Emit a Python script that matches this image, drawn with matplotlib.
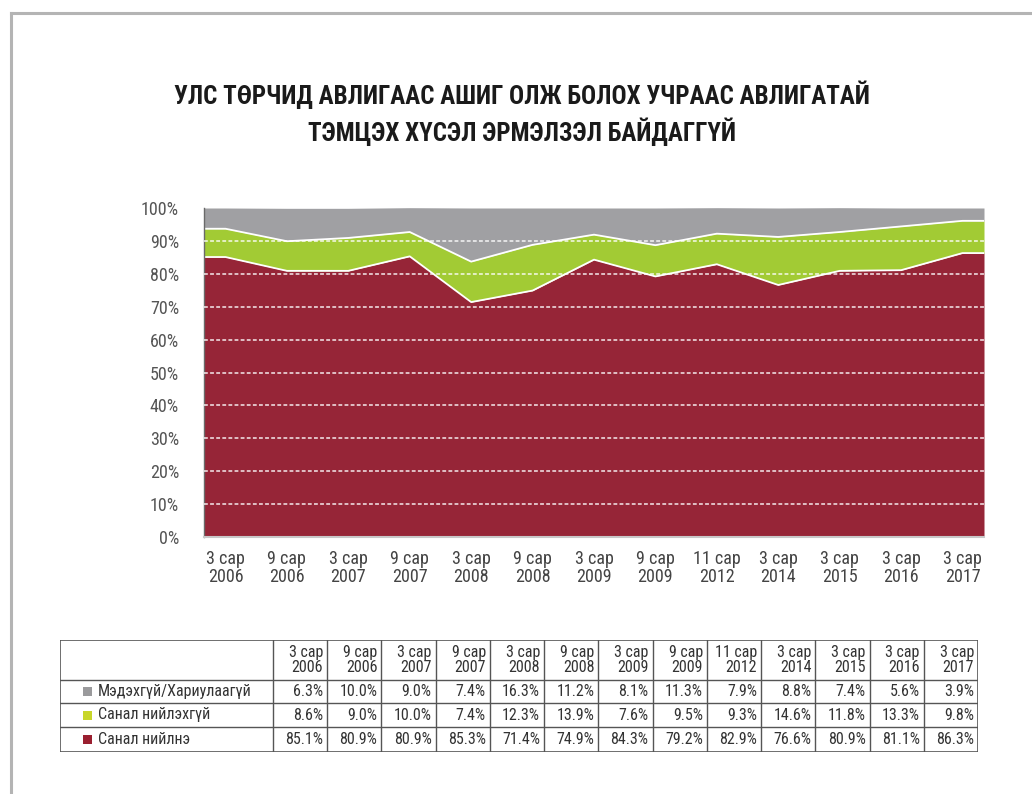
import matplotlib
matplotlib.use("Agg")
import matplotlib.pyplot as plt
import numpy as np
from matplotlib.lines import Line2D
from matplotlib.patches import Rectangle

plt.rcParams['font.family'] = ['Roboto Condensed', 'DejaVu Sans']

# data
periods = ["3 сар\n2006", "9 сар\n2006", "3 сар\n2007", "9 сар\n2007", "3 сар\n2008",
           "9 сар\n2008", "3 сар\n2009", "9 сар\n2009", "11 сар\n2012", "3 сар\n2014",
           "3 сар\n2015", "3 сар\n2016", "3 сар\n2017"]
series_names = ["Мэдэхгүй/Хариулаагүй", "Санал нийлэхгүй", "Санал нийлнэ"]
dont_know = [6.3, 10.0, 9.0, 7.4, 16.3, 11.2, 8.1, 11.3, 7.9, 8.8, 7.4, 5.6, 3.9]
disagree = [8.6, 9.0, 10.0, 7.4, 12.3, 13.9, 7.6, 9.5, 9.3, 14.6, 11.8, 13.3, 9.8]
agree = [85.1, 80.9, 80.9, 85.3, 71.4, 74.9, 84.3, 79.2, 82.9, 76.6, 80.9, 81.1, 86.3]
title = "УЛС ТӨРЧИД АВЛИГААС АШИГ ОЛЖ БОЛОХ УЧРААС АВЛИГАТАЙ\nТЭМЦЭХ ХҮСЭЛ ЭРМЭЛЗЭЛ БАЙДАГГҮЙ"

red = "#962537"
green = "#a2cb34"
gray = "#a0a0a3"
legend_colors = ["#9a9a9c", "#c8d62a", "#9a1f30"]

fig = plt.figure(figsize=(10.32, 7.94), dpi=100)
fig.patch.set_facecolor("white")

# frame lines (top and left)
fig.add_artist(Line2D([11/1032, 1], [1 - 13/794, 1 - 13/794], color="#b4b4b4", lw=2.2,
                      transform=fig.transFigure))
fig.add_artist(Line2D([11/1032, 11/1032], [0, 1 - 13/794], color="#b4b4b4", lw=2.2,
                      transform=fig.transFigure))

fig.text(0.506, 1 - 113/794, title, ha="center", va="center", fontsize=18,
         fontweight="heavy", color="#1a1a1a", linespacing=1.38)

# chart
ax = fig.add_axes([204/1032, 257/794, 780/1032, 329/794])
x = np.arange(len(periods))
pad = 0.35
xe = np.r_[x[0] - pad, x, x[-1] + pad]
a = np.array(agree)
d = np.array(disagree)
k = np.array(dont_know)
a_e = np.r_[a[0], a, a[-1]]
ad_e = np.r_[a[0] + d[0], a + d, a[-1] + d[-1]]
top_e = np.r_[a[0] + d[0] + k[0], a + d + k, a[-1] + d[-1] + k[-1]]

ax.fill_between(xe, 0, a_e, color=red, lw=0, zorder=1)
ax.fill_between(xe, a_e, ad_e, color=green, lw=0, zorder=1)
ax.fill_between(xe, ad_e, top_e, color=gray, lw=0, zorder=1)
ax.plot(xe, a_e, color="white", lw=1.3, zorder=2)
ax.plot(xe, ad_e, color="white", lw=1.3, zorder=2)

ax.set_xlim(xe[0], xe[-1])
ax.set_ylim(0, 100)
ax.set_yticks(np.arange(0, 101, 10))
ax.set_yticklabels([f"{v}%" for v in range(0, 101, 10)])
ax.set_xticks(x)
ax.set_xticklabels(periods, linespacing=1.0)
ax.tick_params(axis="y", length=0, pad=18, labelsize=13, labelcolor="#555555")
ax.tick_params(axis="x", length=0, pad=9, labelsize=13, labelcolor="#444444")
for yv in range(10, 100, 10):
    ax.axhline(yv, color="white", lw=1.1, ls=(0, (2.5, 1.5)), alpha=0.9, zorder=3)
for s in ["top", "right"]:
    ax.spines[s].set_visible(False)
ax.spines["left"].set_color("#6a6a6a")
ax.spines["left"].set_linewidth(1.0)
ax.spines["bottom"].set_color("#c8c8c8")
ax.spines["bottom"].set_linewidth(1.5)

# table
tx = fig.add_axes([60/1032, 42/794, 918/1032, 112/794])
tx.set_xlim(0, 918)
tx.set_ylim(112, 0)
tx.axis("off")
label_w = 213
col_w = (918 - label_w) / len(periods)
row_edges = [0, 40, 63, 87, 112]
lc = "#555555"
tx.add_patch(Rectangle((0, 0), 918, 112, fill=False, ec=lc, lw=1.2))
for yv in row_edges[1:-1]:
    tx.plot([0, 918], [yv, yv], color=lc, lw=1.0)
for i in range(len(periods)):
    cx = label_w + i * col_w
    tx.plot([cx, cx], [0, 112], color=lc, lw=1.0)
    tx.text(cx + col_w - 4, 20, periods[i], ha="right", va="center", fontsize=11.5,
            color="#333333", linespacing=0.95)
rows = [dont_know, disagree, agree]
for r, (name, vals, c) in enumerate(zip(series_names, rows, legend_colors)):
    yc = (row_edges[r + 1] + row_edges[r + 2]) / 2
    tx.add_patch(Rectangle((23, yc - 4.5), 9, 9, color=c, lw=0))
    tx.text(38, yc, name, ha="left", va="center", fontsize=11.5, color="#333333")
    for i, v in enumerate(vals):
        cx = label_w + (i + 1) * col_w
        tx.text(cx - 4, yc, f"{v:.1f}%", ha="right", va="center", fontsize=11.5,
                color="#333333")

fig.savefig("out.png", dpi=100, facecolor="white")
